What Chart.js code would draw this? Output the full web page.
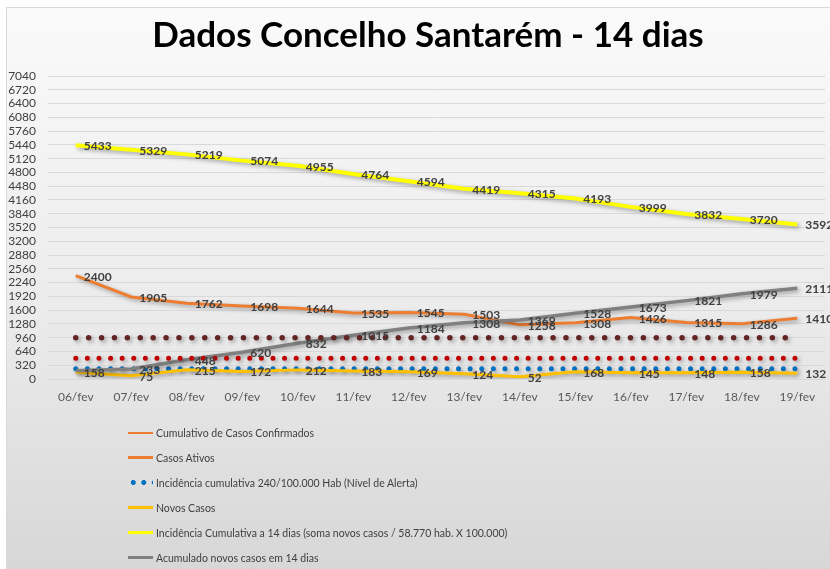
<!DOCTYPE html>
<html lang="pt">
<head>
<meta charset="utf-8">
<title>Dados Concelho Santarém - 14 dias</title>
<script src="https://cdn.jsdelivr.net/npm/chart.js@4.4.1/dist/chart.umd.min.js"></script>
<style>
  html, body { margin: 0; padding: 0; background: #fff; }
  #wrap { position: relative; width: 830px; height: 569px; overflow: hidden; font-family: Lato, "Open Sans", sans-serif; }
  #panel {
    position: absolute; left: 6px; top: 7px; right: 0; bottom: 0;
    border-left: 1px solid #d9d9d9; border-top: 1px solid #d9d9d9;
    background: linear-gradient(#fafafa, #ebebeb 55%, #d7d7d7);
  }
  #chart { position: absolute; left: 0; top: 0; }
  #title {
    position: absolute; left: 128px; width: 600px; top: 12px; margin: 0;
    text-align: center; font-size: 35px; font-weight: bold; line-height: 42px; color: #000;
  }
  #legend { position: absolute; left: 128px; top: 420px; margin: 0; padding: 0; list-style: none; }
  #legend li { height: 25px; display: flex; align-items: center; font-size: 10.5px; color: #404040; white-space: nowrap; }
  #legend .swatch { display: inline-block; width: 25px; margin-right: 3px; }
  #legend .dots { height: 5px; background: radial-gradient(circle, #0070c0 2.2px, transparent 2.6px) 0 0 / 10.5px 5px repeat-x; }
</style>
</head>
<body>
<div id="wrap">
  <div id="panel"></div>
  <canvas id="chart" width="830" height="569"></canvas>
  <h1 id="title">Dados Concelho Santarém - 14 dias</h1>
  <ul id="legend"></ul>
</div>
<script>
const dias = ['06/fev', '07/fev', '08/fev', '09/fev', '10/fev', '11/fev', '12/fev',
              '13/fev', '14/fev', '15/fev', '16/fev', '17/fev', '18/fev', '19/fev'];

// not visible on the chart, only in the legend
const cumulativoConfirmados = [null, null, null, null, null, null, null, null, null, null, null, null, null, null];
const casosAtivos = [2400, 1905, 1762, 1698, 1644, 1535, 1545, 1503, 1258, 1308, 1426, 1315, 1286, 1410];
const nivelAlerta = [240, 240, 240, 240, 240, 240, 240, 240, 240, 240, 240, 240, 240, 240];
const novosCasos = [158, 75, 215, 172, 212, 183, 169, 124, 52, 168, 145, 148, 158, 132];
const incidencia14 = [5433, 5329, 5219, 5074, 4955, 4764, 4594, 4419, 4315, 4193, 3999, 3832, 3720, 3592];
const acumulado14 = [190, 233, 448, 620, 832, 1015, 1184, 1308, 1369, 1528, 1673, 1821, 1979, 2111];
const nivelRiscoElevado = [480, 480, 480, 480, 480, 480, 480, 480, 480, 480, 480, 480, 480, 480];
const nivelRiscoExtremo = [960, 960, 960, 960, 960, 960, 960, 960, 960, 960, 960, 960, 960, 960];

const yMin = 0;
const yMax = 7040;
const yStep = 320;

const datasets = [
    { label: 'Cumulativo de Casos Confirmados', data: cumulativoConfirmados, borderColor: '#ed7d31', borderWidth: 2, legenda: true },
    { label: 'Casos Ativos', data: casosAtivos, borderColor: '#ed7d31', borderWidth: 3, legenda: true, rotulos: true },
    { label: 'Incidência cumulativa 240/100.000 Hab (Nível de Alerta)', data: nivelAlerta, borderColor: '#0070c0', borderWidth: 5,
      borderDash: [0, 11.6], borderCapStyle: 'round', legenda: true, pontos: true },
    { label: 'Novos Casos', data: novosCasos, borderColor: '#ffc000', borderWidth: 3, legenda: true, rotulos: true },
    { label: 'Incidência Cumulativa a 14 dias (soma novos casos / 58.770 hab. X 100.000)', data: incidencia14, borderColor: '#ffff00',
      borderWidth: 4, legenda: true, rotulos: true },
    { label: 'Acumulado novos casos em 14 dias', data: acumulado14, borderColor: '#808080', borderWidth: 3.5, legenda: true,
      rotulos: true, semRotulo: [0] },
    { label: 'Risco elevado', data: nivelRiscoElevado, borderColor: '#c00000', borderWidth: 5, borderDash: [0, 11.6], borderCapStyle: 'round' },
    { label: 'Risco extremamente elevado', data: nivelRiscoExtremo, borderColor: '#632523', borderWidth: 5.5, borderDash: [0, 12.9], borderCapStyle: 'round' }
];
// later series sit on top, as in the spreadsheet
datasets.forEach((ds, i) => { ds.order = datasets.length - i; ds.pointRadius = 0; ds.fill = false; });

const sombra = {
    id: 'sombra',
    beforeDatasetDraw(chart) {
        const ctx = chart.ctx;
        ctx.save();
        ctx.shadowColor = 'rgba(0, 0, 0, 0.35)';
        ctx.shadowBlur = 4;
        ctx.shadowOffsetX = 2;
        ctx.shadowOffsetY = 2;
    },
    afterDatasetDraw(chart) {
        chart.ctx.restore();
    }
};

const rotulos = {
    id: 'rotulos',
    afterDatasetsDraw(chart) {
        const ctx = chart.ctx;
        ctx.save();
        ctx.font = 'bold 12px Lato';
        ctx.fillStyle = '#404040';
        ctx.textAlign = 'left';
        ctx.textBaseline = 'middle';
        chart.data.datasets.forEach((ds, i) => {
            if (!ds.rotulos) return;
            chart.getDatasetMeta(i).data.forEach((pt, j) => {
                const v = ds.data[j];
                if (v == null || (ds.semRotulo || []).includes(j)) return;
                ctx.fillText(String(v), pt.x + 8, pt.y + 1);
            });
        });
        ctx.restore();
    }
};

const legendaHtml = {
    id: 'legendaHtml',
    afterUpdate(chart) {
        const ul = document.getElementById('legend');
        ul.innerHTML = '';
        chart.data.datasets.filter(ds => ds.legenda).forEach(ds => {
            const li = document.createElement('li');
            const sw = document.createElement('span');
            sw.className = 'swatch';
            if (ds.pontos) {
                sw.classList.add('dots');
            } else {
                sw.style.height = Math.min(ds.borderWidth, 3) + 'px';
                sw.style.background = ds.borderColor;
            }
            li.appendChild(sw);
            li.appendChild(document.createTextNode(ds.label));
            ul.appendChild(li);
        });
    }
};

function desenhar() {
    new Chart(document.getElementById('chart'), {
        type: 'line',
        data: { labels: dias, datasets: datasets },
        options: {
            responsive: false,
            devicePixelRatio: 1,
            animation: false,
            layout: { padding: { left: 0, right: 5, top: 76, bottom: 160 } },
            plugins: {
                legend: { display: false },
                tooltip: { enabled: false },
                title: { display: false }
            },
            elements: { line: { tension: 0 } },
            scales: {
                x: {
                    offset: true,
                    grid: { display: false, drawTicks: false },
                    border: { display: false },
                    ticks: { color: '#595959', font: { family: 'Lato', size: 12 }, padding: 11, maxRotation: 0, autoSkip: false },
                    afterFit: s => { s.height = 30; }
                },
                y: {
                    min: yMin,
                    max: yMax,
                    grid: { color: '#d9d9d9', drawTicks: false },
                    border: { display: false },
                    ticks: {
                        stepSize: yStep, autoSkip: false, color: '#404040',
                        font: { family: 'Lato', size: 12 }, padding: 12,
                        callback: v => String(v)
                    },
                    afterFit: s => { s.width = 48; }
                }
            }
        },
        plugins: [sombra, rotulos, legendaHtml]
    });
}

Promise.all([
    document.fonts.load('bold 35px Lato'),
    document.fonts.load('bold 12px Lato'),
    document.fonts.load('12px Lato')
]).then(desenhar, desenhar);
</script>
</body>
</html>
